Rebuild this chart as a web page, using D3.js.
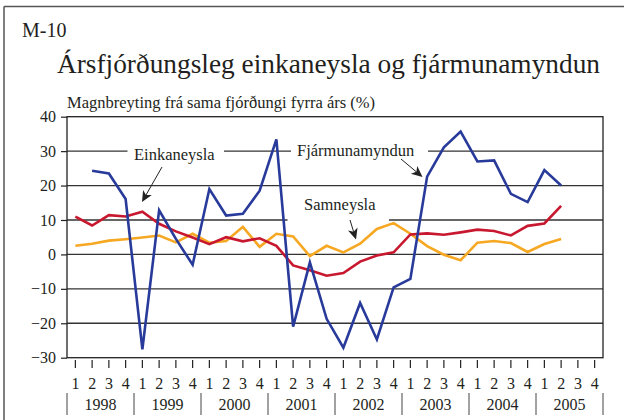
<!DOCTYPE html>
<html>
<head>
<meta charset="utf-8">
<script src="https://cdn.jsdelivr.net/npm/d3@7"></script>
<style>
  html, body { margin: 0; padding: 0; background: #fff; }
  svg { display: block; }
  text { font-family: "Liberation Serif", "Times New Roman", serif; fill: #231f20; }
</style>
</head>
<body>
<svg id="chart" width="624" height="420"></svg>
<script>
// ---- data ----
const years = ["1998", "1999", "2000", "2001", "2002", "2003", "2004", "2005"];
const quarters = ["1", "2", "3", "4"];
const yTicks = [40, 30, 20, 10, 0, -10, -20, -30];

// Einkaneysla (red), 1998Q1 - 2005Q2
const einkaneysla = [11.0, 8.4, 11.4, 11.0, 12.4, 8.9, 6.7, 4.9, 3.0, 5.0, 3.8, 4.7,
  2.5, -3.2, -4.6, -6.2, -5.4, -2.1, -0.3, 0.6, 5.8, 6.1, 5.7, 6.4, 7.2, 6.8, 5.5, 8.3, 9.0, 14.1];
// Samneysla (orange)
const samneysla = [2.5, 3.1, 4.0, 4.4, 4.9, 5.5, 3.5, 6.0, 3.4, 3.9, 8.0, 2.2,
  6.0, 5.2, -0.5, 2.5, 0.6, 3.1, 7.4, 9.1, 6.0, 2.4, -0.1, -1.7, 3.4, 3.9, 3.3, 0.7, 3.0, 4.5];
// Fjármunamyndun (blue), no value for 1998Q1
const fjarmunamyndun = [null, 24.3, 23.5, 16.1, -27.6, 12.8, 4.5, -3.0, 19.0, 11.3, 11.8, 18.5,
  33.4, -21.0, -2.3, -18.7, -27.1, -14.1, -24.7, -9.6, -7.1, 22.6, 31.1, 35.7, 27.0, 27.3, 17.6, 15.2, 24.5, 20.0];

const chartId = "M-10";
const title = "Ársfjórðungsleg einkaneysla og fjármunamyndun";
const subtitle = "Magnbreyting frá sama fjórðungi fyrra árs (%)";
const labelEinka = "Einkaneysla";
const labelFjar = "Fjármunamyndun";
const labelSam = "Samneysla";

// ---- layout ----
const periods = years.flatMap(yr => quarters.map(q => yr + "Q" + q));
const L = 67, R = 603, T = 116.7, B = 357.7;
const x = d3.scaleBand().domain(periods).range([L, R]);
const y = d3.scaleLinear().domain([-30, 40]).range([B, T]);
const cx = i => x(periods[i]) + x.bandwidth() / 2;

const svg = d3.select("#chart");

// outer frame (top + left)
svg.append("line").attr("x1", 4).attr("x2", 624).attr("y1", 6.5).attr("y2", 6.5)
  .attr("stroke", "#555").attr("stroke-width", 1.5);
svg.append("line").attr("x1", 4).attr("x2", 4).attr("y1", 6.5).attr("y2", 420)
  .attr("stroke", "#555").attr("stroke-width", 1.5);

// titles
svg.append("text").attr("x", 22).attr("y", 37).attr("font-size", 20).text(chartId);
svg.append("text").attr("x", 57).attr("y", 73).attr("font-size", 28)
  .attr("textLength", 543).attr("lengthAdjust", "spacingAndGlyphs").text(title);
svg.append("text").attr("x", 67).attr("y", 108).attr("font-size", 16.5)
  .attr("textLength", 308).attr("lengthAdjust", "spacingAndGlyphs").text(subtitle);

// gridlines (with gaps where labels sit)
const gaps = { 30: [[127.5, 224], [291, 428]], 10: [[287.5, 389]] };
const grid = svg.append("g");
yTicks.filter(v => v !== 40 && v !== -30).forEach(v => {
  let segs = [[L, R]];
  if (gaps[v]) {
    segs = [];
    let start = L;
    gaps[v].forEach(([a, b]) => { segs.push([start, a]); start = b; });
    segs.push([start, R]);
  }
  segs.forEach(([a, b]) => {
    grid.append("line").attr("x1", a).attr("x2", b).attr("y1", y(v)).attr("y2", y(v))
      .attr("stroke", "#333").attr("stroke-width", 1.3);
  });
});

// plot frame
svg.append("rect").attr("x", L).attr("y", T).attr("width", R - L).attr("height", B - T)
  .attr("fill", "none").attr("stroke", "#222").attr("stroke-width", 1.3);

// y axis
const yAxis = d3.axisLeft(y).tickValues(yTicks).tickSize(6).tickPadding(5);
const gy = svg.append("g").attr("transform", `translate(${L},0)`).call(yAxis);
gy.select(".domain").remove();
gy.selectAll(".tick line").attr("stroke", "#222").attr("stroke-width", 1.2);
gy.selectAll(".tick text").attr("font-size", 16).attr("fill", "#231f20")
  .attr("font-family", "'Liberation Serif', 'Times New Roman', serif");

// x ticks & labels
const gx = svg.append("g");
periods.forEach((p, i) => {
  gx.append("line").attr("x1", cx(i)).attr("x2", cx(i)).attr("y1", 360).attr("y2", 368)
    .attr("stroke", "#222").attr("stroke-width", 1.2);
  gx.append("text").attr("x", cx(i)).attr("y", 389).attr("text-anchor", "middle")
    .attr("font-size", 16).text(quarters[i % 4]);
});
years.forEach((yr, k) => {
  const x0 = x(yr + "Q1");
  const x1 = x(yr + "Q4") + x.bandwidth();
  gx.append("text").attr("x", (x0 + x1) / 2).attr("y", 410).attr("text-anchor", "middle")
    .attr("font-size", 16).text(yr);
});
d3.range(years.length + 1).forEach(k => {
  const xx = L + k * 4 * x.bandwidth();
  gx.append("line").attr("x1", xx).attr("x2", xx).attr("y1", 393).attr("y2", 415)
    .attr("stroke", "#444").attr("stroke-width", 1);
});

// series lines
const line = d3.line().defined(d => d != null).x((d, i) => cx(i)).y(d => y(d));
const series = [
  { values: samneysla, color: "#f7a823" },
  { values: einkaneysla, color: "#c8182f" },
  { values: fjarmunamyndun, color: "#283a9a" }
];
series.forEach(s => {
  svg.append("path").datum(s.values).attr("d", line)
    .attr("fill", "none").attr("stroke", s.color).attr("stroke-width", 2.6)
    .attr("stroke-linejoin", "miter");
});

// labels & arrows
svg.append("text").attr("x", 134).attr("y", 160).attr("font-size", 16.5).text(labelEinka);
svg.append("text").attr("x", 297).attr("y", 156).attr("font-size", 16.5).text(labelFjar);
svg.append("text").attr("x", 304).attr("y", 210).attr("font-size", 16.5).text(labelSam);

function arrow(x1, y1, x2, y2) {
  const ang = Math.atan2(y2 - y1, x2 - x1);
  const len = 11, wid = 5, back = 8;
  const bx = x2 - Math.cos(ang) * len, by = y2 - Math.sin(ang) * len;
  const nx = -Math.sin(ang), ny = Math.cos(ang);
  const mx = x2 - Math.cos(ang) * back, my = y2 - Math.sin(ang) * back;
  svg.append("line").attr("x1", x1).attr("y1", y1).attr("x2", mx).attr("y2", my)
    .attr("stroke", "#222").attr("stroke-width", 1);
  svg.append("path")
    .attr("d", `M${x2},${y2}L${bx + nx * wid},${by + ny * wid}L${mx},${my}L${bx - nx * wid},${by - ny * wid}Z`)
    .attr("fill", "#222");
}
arrow(162, 167, 142, 202);
arrow(401, 159, 422.5, 177);
arrow(350, 220, 356, 239.5);
</script>
</body>
</html>
